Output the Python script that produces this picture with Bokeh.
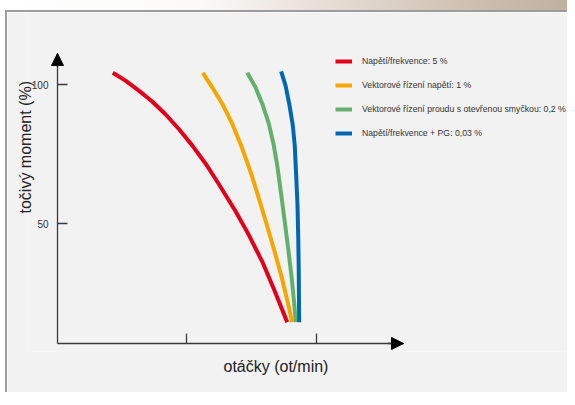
from bokeh.plotting import figure
from bokeh.models import Range1d, FixedTicker, Arrow, NormalHead, Legend, LegendItem, Title
from bokeh.embed import file_html
from bokeh.resources import INLINE

FONT = "Liberation Sans"

# ---- data ----
series_labels = [
    "Napětí/frekvence: 5 %",
    "Vektorové řízení napětí: 1 %",
    "Vektorové řízení proudu s otevřenou smyčkou: 0,2 %",
    "Napětí/frekvence + PG: 0,03 %",
]
series_colors = ["#e2001a", "#f7a600", "#62b06c", "#0068b3"]

red_x = [0.427, 0.525, 0.628, 0.731, 0.834, 0.937, 1.040, 1.143, 1.233, 1.375, 1.477, 1.581, 1.670, 1.774]
red_y = [104.2, 101.4, 97.8, 93.9, 89.3, 84.0, 78.1, 71.6, 65.1, 54.4, 45.9, 36.3, 26.5, 14.5]

orange_x = [1.122, 1.195, 1.272, 1.349, 1.413, 1.465, 1.500, 1.552, 1.614, 1.674, 1.731, 1.781, 1.812]
orange_y = [104.2, 99.0, 93.1, 85.9, 78.7, 72.0, 67.3, 59.5, 49.9, 40.3, 30.7, 21.1, 14.5]

green_x = [1.465, 1.529, 1.581, 1.632, 1.670, 1.697, 1.730, 1.757, 1.783, 1.808, 1.828, 1.840]
green_y = [104.2, 99.0, 93.1, 85.9, 78.1, 70.9, 59.5, 49.9, 40.3, 30.7, 21.1, 14.5]

blue_x = [1.727, 1.761, 1.792, 1.817, 1.832, 1.843, 1.853, 1.859, 1.863, 1.866]
blue_y = [104.7, 99.6, 92.4, 85.3, 78.1, 67.3, 57.1, 45.1, 33.1, 14.5]

y_ticks = [50, 100]
x_ticks = [1, 2]
x_title = "otáčky (ot/min)"
y_title = "točivý moment (%)"

# axis extents (data units)
x_min, x_max = -0.23166, 3.9923
y_min, y_max = 3.957, 125.90
x_origin = 0.0
y_origin = 6.835
x_arrow_tip = 2.672
y_arrow_tip = 111.15

AX = "#3a3a3a"

p = figure(width=567, height=392, output_backend="svg", toolbar_location=None,
           x_range=Range1d(x_min, x_max), y_range=Range1d(y_min, y_max),
           min_border_left=20, min_border_bottom=53, min_border_top=0, min_border_right=0,
           background_fill_color="#f2f2f2", border_fill_color="#f2f2f2",
           outline_line_color=None)
p.styles = {
    "padding-top": "12px",
    "padding-left": "7px",
    "background": ("linear-gradient(#9c9c9c,#9c9c9c) 5px 10px / 100% 2px no-repeat, "
                   "linear-gradient(#9c9c9c,#9c9c9c) 5px 10px / 2px 100% no-repeat, "
                   "linear-gradient(to right, #ffffff 0%, #fbfaf9 35%, #e4dbd1 60%, #cbbeae 85%, #c0b2a1 100%) 0 0 / 100% 10px no-repeat, "
                   "#ffffff"),
}
p.xgrid.visible = False
p.ygrid.visible = False

for ax in (p.xaxis[0], p.yaxis[0]):
    ax.axis_line_color = AX
    ax.axis_line_width = 1.3
    ax.major_tick_line_color = AX
    ax.major_tick_line_width = 1.3
    ax.major_tick_in = 10
    ax.major_tick_out = 0
    ax.minor_tick_line_color = None
    ax.major_label_text_font = FONT
    ax.major_label_text_color = "#333333"

yax = p.yaxis[0]
yax.ticker = FixedTicker(ticks=y_ticks)
yax.fixed_location = x_origin
yax.bounds = (y_origin, y_arrow_tip)
yax.major_label_standoff = 9
yax.major_label_text_font_size = "10px"

xax = p.xaxis[0]
xax.ticker = FixedTicker(ticks=x_ticks)
xax.fixed_location = y_origin
xax.bounds = (x_origin, x_arrow_tip)
xax.major_label_overrides = {t: "" for t in x_ticks}
xax.major_label_text_font_size = "1px"
xax.major_label_standoff = 0

# axis titles
p.add_layout(Title(text=y_title, align="left", offset=138, vertical_align="bottom", standoff=-12,
                   text_font=FONT, text_font_size="16px", text_font_style="normal",
                   text_color="#222222"), "left")
p.add_layout(Title(text=x_title, align="left", offset=196, vertical_align="top", standoff=12,
                   text_font=FONT, text_font_size="16px", text_font_style="normal",
                   text_color="#222222"), "below")

# arrow heads on the axes
p.add_layout(Arrow(end=NormalHead(size=12, fill_color="black", line_color="black"),
                   x_start=x_arrow_tip - 0.12, y_start=y_origin, x_end=x_arrow_tip, y_end=y_origin,
                   line_color=AX, line_width=1.3))
p.add_layout(Arrow(end=NormalHead(size=12, fill_color="black", line_color="black"),
                   x_start=x_origin, y_start=y_arrow_tip - 5, x_end=x_origin, y_end=y_arrow_tip,
                   line_color=AX, line_width=1.3))

series = [(red_x, red_y), (orange_x, orange_y), (green_x, green_y), (blue_x, blue_y)]
renderers = []
for (xs, ys), c in zip(series, series_colors):
    r = p.line(xs, ys, line_color=c, line_width=4, line_cap="butt", line_join="round")
    renderers.append(r)

legend = Legend(items=[LegendItem(label=l, renderers=[r]) for l, r in zip(series_labels, renderers)],
                location=(308, 211), orientation="vertical",
                label_text_font=FONT, label_text_font_size="8.7px", label_text_color="#333333",
                glyph_width=17, glyph_height=14, label_height=14, spacing=10,
                label_standoff=10, padding=0, margin=0,
                border_line_color=None, background_fill_alpha=0)
p.add_layout(legend)

open("out.html", "w").write(file_html(p, INLINE))
